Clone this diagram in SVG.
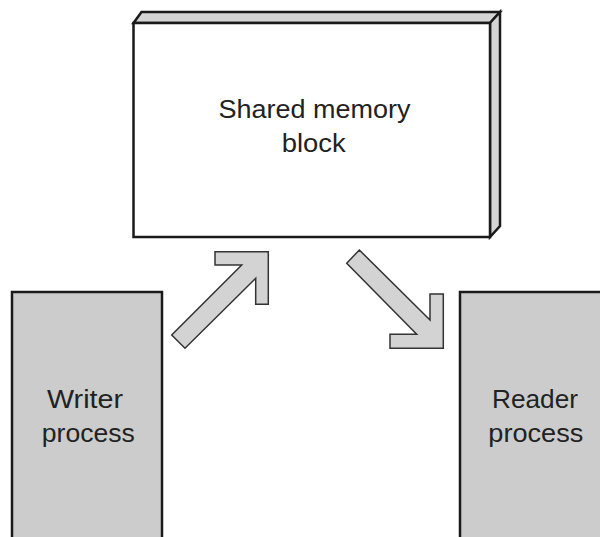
<svg xmlns="http://www.w3.org/2000/svg" width="600" height="537" viewBox="0 0 600 537">
<style>
.box{stroke:#1a1a1a;stroke-width:2.5;stroke-linejoin:miter}
.face{fill:#d4d4d4}
.proc{fill:#cccccc}
.arrow{fill:#d3d3d3;stroke:#333;stroke-width:1.5;stroke-linejoin:miter}
text{font-family:"Liberation Sans",Arial,Helvetica,sans-serif;font-size:25px;fill:#222;text-anchor:middle}
</style>
<rect width="600" height="537" fill="#ffffff"/>
<g id="shared-memory">
<polygon class="box face" points="133.5,23 141.5,12 500,12 490,23"/>
<polygon class="box face" points="490,23 500,12 500,226 490,237"/>
<rect class="box" x="133.5" y="23" width="356.5" height="214" fill="#ffffff"/>
<text x="314.5" y="117.5" textLength="192" lengthAdjust="spacingAndGlyphs">Shared memory</text>
<text x="313.7" y="151.5" textLength="64" lengthAdjust="spacingAndGlyphs">block</text>
</g>
<g id="writer">
<rect class="box proc" x="12" y="292" width="150" height="260"/>
<text x="85" y="408" textLength="76" lengthAdjust="spacingAndGlyphs">Writer</text>
<text x="88.3" y="442" textLength="93" lengthAdjust="spacingAndGlyphs">process</text>
</g>
<g id="reader">
<rect class="box proc" x="460" y="292" width="160" height="260"/>
<text x="535" y="408" textLength="86" lengthAdjust="spacingAndGlyphs">Reader</text>
<text x="535.8" y="442" textLength="95" lengthAdjust="spacingAndGlyphs">process</text>
</g>
<g id="connectors">
<polygon class="arrow" points="215,251.7 268.3,251.7 268.3,304.3 255.7,304.3 255.7,278.3 185,348.3 171.7,335 241.7,265 215,265"/>
<polygon class="arrow" points="359.3,250 430,320 430,294 443.3,294 443.3,348.3 390,348.3 390,334.3 416.7,334.3 346.7,263.3"/>
</g>
</svg>
